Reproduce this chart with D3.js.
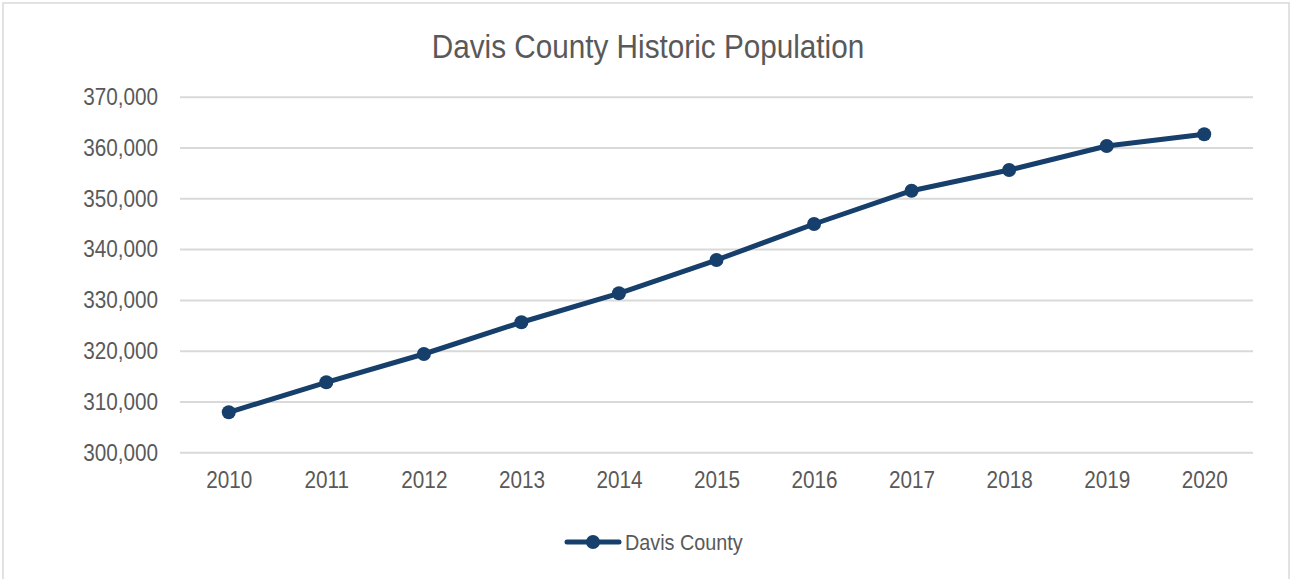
<!DOCTYPE html>
<html>
<head>
<meta charset="utf-8">
<script src="https://cdn.jsdelivr.net/npm/d3@7"></script>
<style>
  html, body { margin: 0; padding: 0; background: #fff; }
  svg { display: block; }
  text { font-family: "Liberation Sans Narrow", "Arial Narrow", "Liberation Sans", sans-serif; fill: #595959; }
</style>
</head>
<body>
<svg id="chart" width="1291" height="579"></svg>
<script>
const years = ["2010", "2011", "2012", "2013", "2014", "2015", "2016", "2017", "2018", "2019", "2020"];
const population = [307870, 313780, 319350, 325600, 331300, 337850, 344940, 351500, 355570, 360300, 362600];
const yTicks = [300000, 310000, 320000, 330000, 340000, 350000, 360000, 370000];
const seriesName = "Davis County";
const chartTitle = "Davis County Historic Population";

const W = 1291, H = 579;
const plot = { left: 180, right: 1253, top: 96.7, bottom: 452.3 };
const lineColor = "#173f6b";
const narrow = 0.9; // horizontal squeeze to get a narrow face look

const svg = d3.select("#chart");

// outer chart border
svg.append("rect")
  .attr("x", 3).attr("y", 3)
  .attr("width", 1286).attr("height", H + 10)
  .attr("fill", "#fff")
  .attr("stroke", "#d9d9d9").attr("stroke-width", 1.5);

const x = d3.scalePoint().domain(years).range([plot.left, plot.right]).padding(0.5);
const y = d3.scaleLinear().domain([300000, 370000]).range([plot.bottom, plot.top]);

// title
svg.append("text")
  .attr("x", 648).attr("y", 58)
  .attr("text-anchor", "middle")
  .style("font-size", "33px")
  .text(chartTitle);

// horizontal gridlines + y labels
const yAxis = d3.axisLeft(y)
  .tickValues(yTicks)
  .tickSize(-(plot.right - plot.left))
  .tickPadding(22)
  .tickFormat(d3.format(","));
const gy = svg.append("g").attr("transform", `translate(${plot.left},0)`).call(yAxis);
gy.select(".domain").remove();
gy.selectAll(".tick line").attr("stroke", "#d9d9d9").attr("stroke-width", 2);
gy.selectAll(".tick text").style("font-size", "23px").attr("fill", "#595959").attr("dy", "0.34em");

// x labels
const xAxis = d3.axisBottom(x).tickSize(0).tickPadding(19);
const gx = svg.append("g").attr("transform", `translate(0,${plot.bottom})`).call(xAxis);
gx.select(".domain").remove();
gx.selectAll(".tick text").style("font-size", "23px").attr("fill", "#595959");

// series line
const line = d3.line().x((d, i) => x(years[i])).y(d => y(d));
svg.append("path")
  .datum(population)
  .attr("d", line)
  .attr("fill", "none")
  .attr("stroke", lineColor)
  .attr("stroke-width", 5)
  .attr("stroke-linejoin", "round")
  .attr("stroke-linecap", "round");

svg.selectAll("circle.pt")
  .data(population)
  .join("circle")
  .attr("class", "pt")
  .attr("cx", (d, i) => x(years[i]))
  .attr("cy", d => y(d))
  .attr("r", 7)
  .attr("fill", lineColor);

// legend
const lg = svg.append("g").attr("transform", "translate(0,542)");
lg.append("line")
  .attr("x1", 567).attr("x2", 619).attr("y1", 0).attr("y2", 0)
  .attr("stroke", lineColor).attr("stroke-width", 5).attr("stroke-linecap", "round");
lg.append("circle").attr("cx", 593).attr("cy", 0).attr("r", 7).attr("fill", lineColor);
lg.append("text")
  .attr("x", 625).attr("y", 0).attr("dy", "0.35em")
  .style("font-size", "22px")
  .text(seriesName);

// condense every label horizontally
svg.selectAll("text").each(function () {
  const w = this.getComputedTextLength();
  d3.select(this)
    .attr("textLength", w * narrow)
    .attr("lengthAdjust", "spacingAndGlyphs");
});
</script>
</body>
</html>
